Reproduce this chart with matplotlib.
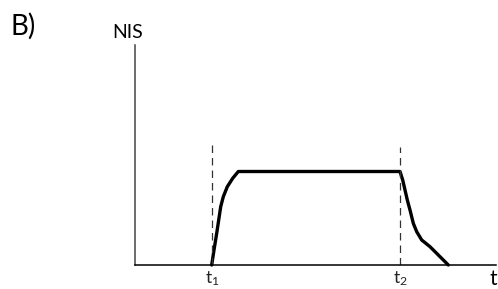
import matplotlib
matplotlib.use("Agg")
import matplotlib.pyplot as plt

plt.rcParams['font.family'] = ['Lato', 'DejaVu Sans']
plt.rcParams['mathtext.fontset'] = 'custom'
plt.rcParams['mathtext.rm'] = 'Lato'

# schematic NIS response, arbitrary units
rise_t = [7.67, 7.9, 8.17, 8.37, 8.57, 8.83, 9.23, 9.77, 10.33]
rise_nis = [0.0, 1.5, 3.17, 4.5, 5.83, 6.83, 7.83, 8.67, 9.35]
plateau_t = [10.33, 26.5]
plateau_nis = [9.35, 9.35]
fall_t = [26.5, 26.77, 27.0, 27.23, 27.5, 27.83, 28.17, 28.67, 29.5, 30.33, 31.33]
fall_nis = [9.35, 8.5, 7.5, 6.5, 5.5, 4.17, 3.33, 2.5, 1.83, 1.0, 0.0]

t1 = 7.7
t2 = 26.5
t1_top = 12.3
t2_top = 11.8
tick_labels = [r'$\mathregular{t_1}$', r'$\mathregular{t_2}$']

fig = plt.figure(figsize=(4.98, 2.89), dpi=100)
ax = fig.add_axes([135/498, 24/289, 361/498, 220/289])
ax.set_xlim(0, 36.1)
ax.set_ylim(0, 22)

t_all = rise_t + plateau_t[1:] + fall_t[1:]
nis_all = rise_nis + plateau_nis[1:] + fall_nis[1:]
ax.plot(t_all, nis_all, color='black', lw=2.4, solid_joinstyle='round',
        solid_capstyle='round', clip_on=False)

ax.plot([t1, t1], [0, t1_top], color='#333333', lw=0.9, ls=(0, (6, 4)))
ax.plot([t2, t2], [0, t2_top], color='#333333', lw=0.9, ls=(0, (6, 4)))

for s in ['top', 'right']:
    ax.spines[s].set_visible(False)
ax.spines['left'].set_color('#444444')
ax.spines['left'].set_linewidth(1.1)
ax.spines['bottom'].set_color('black')
ax.spines['bottom'].set_linewidth(1.1)

ax.set_xticks([t1, t2])
ax.set_xticklabels(tick_labels, fontsize=12.5, color='#222222')
ax.tick_params(axis='x', length=0, pad=3)
ax.set_yticks([])

fig.text(128/498, 1 - 32/289, 'NIS', fontsize=14, ha='center', va='center')
fig.text(493/498, 1 - 279/289, 't', fontsize=15, ha='center', va='center')
fig.text(23/498, 1 - 26/289, 'B)', fontsize=20, ha='center', va='center')

fig.savefig('out.png', dpi=100)
